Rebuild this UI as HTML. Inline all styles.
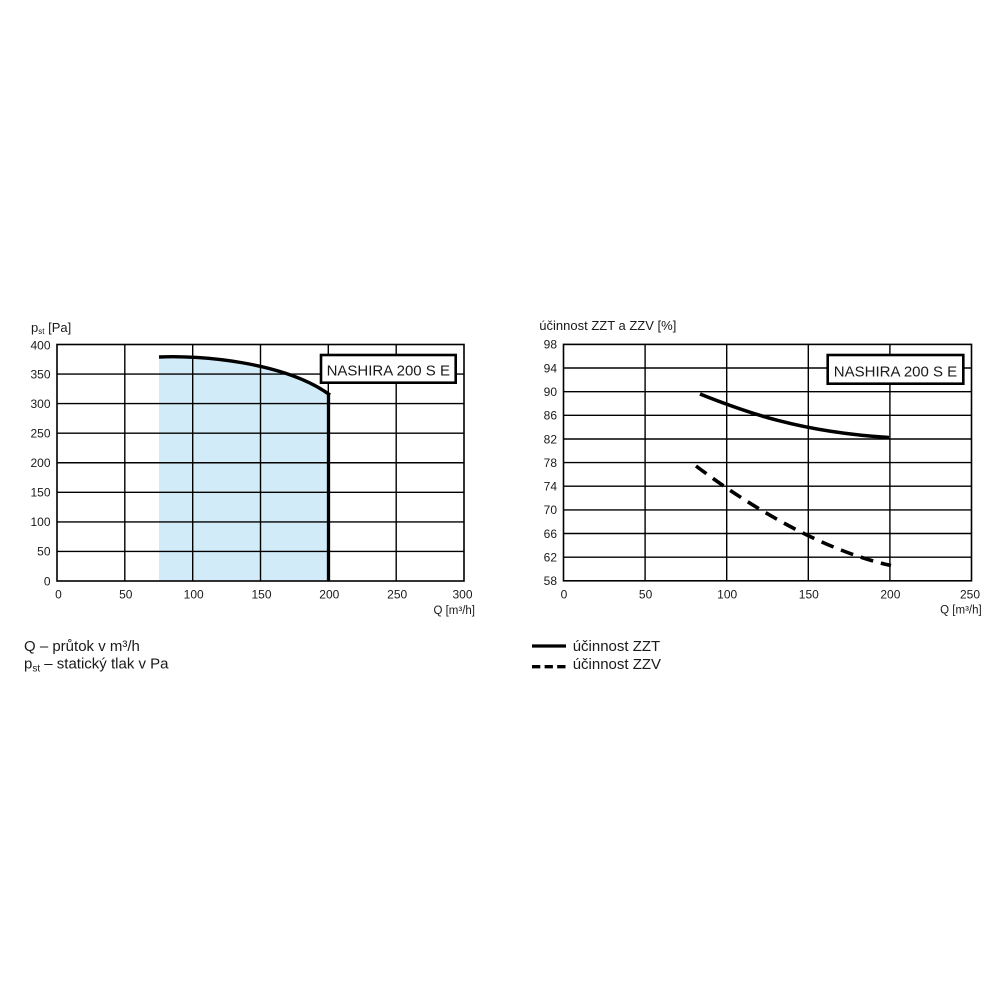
<!DOCTYPE html>
<html><head><meta charset="utf-8"><style>
html,body{margin:0;padding:0;background:#fff;}
svg{display:block;}
text{font-family:"Liberation Sans",Arial,sans-serif;fill:#1a1a1a;}
</style></head><body>
<svg width="1000" height="1000" viewBox="0 0 1000 1000" xmlns="http://www.w3.org/2000/svg">
<rect width="1000" height="1000" fill="#fff"/>

<!-- LEFT CHART -->
<path d="M159,581 L159,357 C200,355 285,362 330,395 L328.5,395 L328.5,581 Z" fill="#d2ebf8"/>
<g stroke="#000" stroke-width="1.4" fill="none">
<line x1="124.8" y1="344.5" x2="124.8" y2="581"/>
<line x1="192.7" y1="344.5" x2="192.7" y2="581"/>
<line x1="260.5" y1="344.5" x2="260.5" y2="581"/>
<line x1="328.3" y1="344.5" x2="328.3" y2="581"/>
<line x1="396.2" y1="344.5" x2="396.2" y2="581"/>
<line x1="57" y1="551.4" x2="464" y2="551.4"/>
<line x1="57" y1="521.9" x2="464" y2="521.9"/>
<line x1="57" y1="492.3" x2="464" y2="492.3"/>
<line x1="57" y1="462.75" x2="464" y2="462.75"/>
<line x1="57" y1="433.2" x2="464" y2="433.2"/>
<line x1="57" y1="403.6" x2="464" y2="403.6"/>
<line x1="57" y1="374.1" x2="464" y2="374.1"/>
<rect x="57" y="344.5" width="407" height="236.5" stroke-width="1.6"/>
</g>
<path d="M159,357 C200,355 285,362 330,395" fill="none" stroke="#000" stroke-width="3.4"/>
<line x1="328.5" y1="394" x2="328.5" y2="581" stroke="#000" stroke-width="3.3"/>
<rect x="321" y="355" width="134.7" height="27.7" fill="#fff" stroke="#000" stroke-width="2.6"/>
<text x="388.3" y="375.7" font-size="15" text-anchor="middle">NASHIRA 200 S E</text>

<g font-size="12" text-anchor="end">
<text x="50.5" y="349.3">400</text>
<text x="50.5" y="378.4">350</text>
<text x="50.5" y="407.9">300</text>
<text x="50.5" y="437.5">250</text>
<text x="50.5" y="467">200</text>
<text x="50.5" y="496.6">150</text>
<text x="50.5" y="526.2">100</text>
<text x="50.5" y="555.7">50</text>
<text x="50.5" y="585.3">0</text>
</g>
<g font-size="12" text-anchor="middle">
<text x="58.5" y="598.5">0</text>
<text x="125.8" y="598.5">50</text>
<text x="193.7" y="598.5">100</text>
<text x="261.5" y="598.5">150</text>
<text x="329.3" y="598.5">200</text>
<text x="397.2" y="598.5">250</text>
<text x="462.5" y="598.5">300</text>
</g>
<text x="475" y="614" font-size="11.5" text-anchor="end">Q [m³/h]</text>
<text x="31" y="332" font-size="13">p<tspan font-size="8" dy="2">st</tspan><tspan dy="-2"> [Pa]</tspan></text>

<text x="24" y="651" font-size="15">Q – průtok v m³/h</text>
<text x="24" y="668.5" font-size="15">p<tspan font-size="10" dy="3">st</tspan><tspan dy="-3"> – statický tlak v Pa</tspan></text>

<!-- RIGHT CHART -->
<g stroke="#000" stroke-width="1.4" fill="none">
<line x1="645.1" y1="344.4" x2="645.1" y2="580.8"/>
<line x1="726.7" y1="344.4" x2="726.7" y2="580.8"/>
<line x1="808.3" y1="344.4" x2="808.3" y2="580.8"/>
<line x1="889.9" y1="344.4" x2="889.9" y2="580.8"/>
<line x1="563.5" y1="368.0" x2="971.5" y2="368.0"/>
<line x1="563.5" y1="391.7" x2="971.5" y2="391.7"/>
<line x1="563.5" y1="415.3" x2="971.5" y2="415.3"/>
<line x1="563.5" y1="439.0" x2="971.5" y2="439.0"/>
<line x1="563.5" y1="462.6" x2="971.5" y2="462.6"/>
<line x1="563.5" y1="486.2" x2="971.5" y2="486.2"/>
<line x1="563.5" y1="509.9" x2="971.5" y2="509.9"/>
<line x1="563.5" y1="533.5" x2="971.5" y2="533.5"/>
<line x1="563.5" y1="557.2" x2="971.5" y2="557.2"/>
<rect x="563.5" y="344.4" width="408" height="236.4" stroke-width="1.6"/>
</g>
<path d="M700,394 C745,412 800,432 889,437.5" fill="none" stroke="#000" stroke-width="3.6"/>
<path d="M696,466 C745,503 820,550 891,565.5" fill="none" stroke="#000" stroke-width="3.6" stroke-dasharray="13 8"/>
<rect x="827.7" y="355" width="135.6" height="28.7" fill="#fff" stroke="#000" stroke-width="2.6"/>
<text x="895.5" y="376.7" font-size="15" text-anchor="middle">NASHIRA 200 S E</text>

<g font-size="12" text-anchor="end">
<text x="557" y="348.7">98</text>
<text x="557" y="372.3">94</text>
<text x="557" y="396">90</text>
<text x="557" y="419.6">86</text>
<text x="557" y="443.3">82</text>
<text x="557" y="466.9">78</text>
<text x="557" y="490.5">74</text>
<text x="557" y="514.2">70</text>
<text x="557" y="537.8">66</text>
<text x="557" y="561.5">62</text>
<text x="557" y="585.1">58</text>
</g>
<g font-size="12" text-anchor="middle">
<text x="564" y="598.5">0</text>
<text x="645.6" y="598.5">50</text>
<text x="727.2" y="598.5">100</text>
<text x="808.8" y="598.5">150</text>
<text x="890.4" y="598.5">200</text>
<text x="970" y="598.5">250</text>
</g>
<text x="981.7" y="613.5" font-size="11.5" text-anchor="end">Q [m³/h]</text>
<text x="539.3" y="330" font-size="13">účinnost ZZT a ZZV [%]</text>

<line x1="532" y1="646" x2="566" y2="646" stroke="#000" stroke-width="3.3"/>
<text x="572.7" y="651" font-size="15">účinnost ZZT</text>
<line x1="532" y1="666.7" x2="566" y2="666.7" stroke="#000" stroke-width="3.3" stroke-dasharray="8.3 4.3"/>
<text x="572.7" y="669" font-size="15">účinnost ZZV</text>
</svg>
</body></html>
